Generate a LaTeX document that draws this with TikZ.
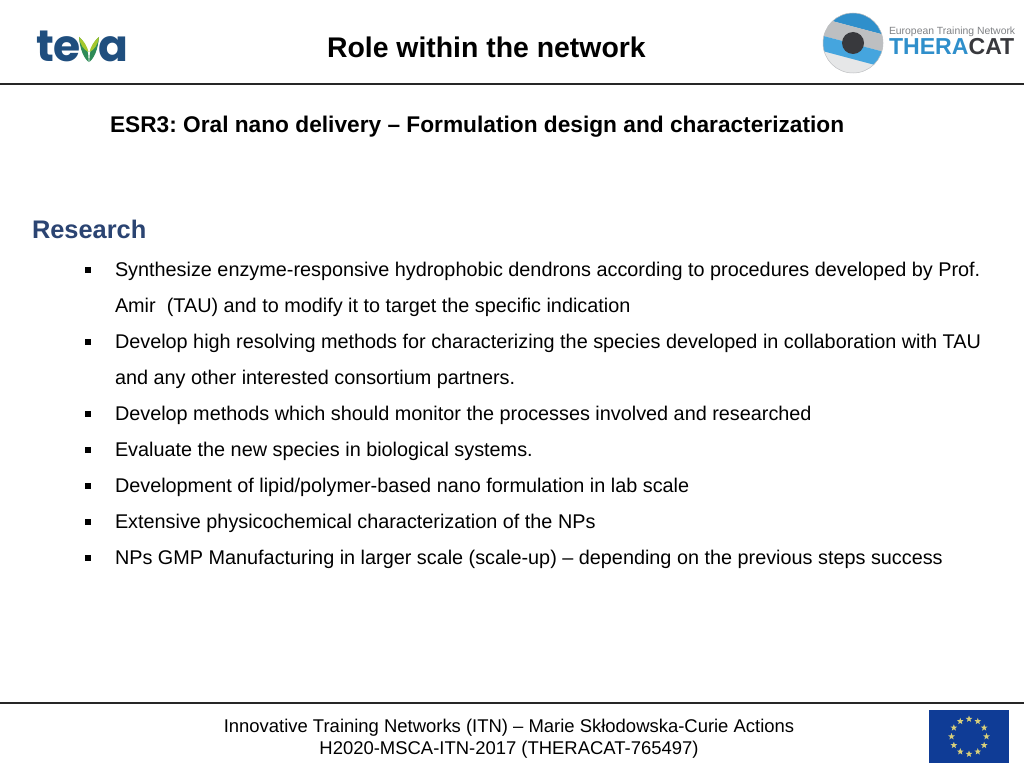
\documentclass[tikz,border=0pt]{standalone}
\usepackage{fontspec}
\usetikzlibrary{shapes.geometric}
\setmainfont{Liberation Sans}
\newfontfamily\popf{Poppins}
\frenchspacing
\definecolor{tevablue}{HTML}{1F4E7E}
\definecolor{tevagreen}{HTML}{2E8B57}
\definecolor{tevalime}{HTML}{A5C82D}
\definecolor{resblue}{HTML}{2B4472}
\definecolor{thblue}{HTML}{2F8FCB}
\definecolor{thsky}{HTML}{45A5DE}
\definecolor{thgray}{HTML}{BDBFC1}
\definecolor{thlight}{HTML}{E6E7E8}
\definecolor{thdark}{HTML}{38393D}
\definecolor{thtext}{HTML}{808285}
\definecolor{eublue}{HTML}{0F3C96}
\definecolor{eustar}{HTML}{D8CF7A}
\tikzset{
  x=1pt,y=-1pt,
  txt/.style={anchor=base west,inner sep=0pt,outer sep=0pt,text=black},
  body/.style={txt,font=\fontsize{19.83}{24}\selectfont},
  headtxt/.style={txt,font=\fontsize{28.4}{34}\selectfont\bfseries},
  subtxt/.style={txt,font=\fontsize{22.7}{28}\selectfont\bfseries},
  foot/.style={anchor=base,inner sep=0pt,font=\fontsize{18.45}{22}\selectfont,text=black},
  bullet/.style={fill=black,draw=none,minimum size=6pt,inner sep=0pt,outer sep=0pt,rectangle},
  rulel/.style={draw=black!85,line width=1.4pt},
  eust/.style={star,star points=5,star point ratio=2.4,fill=eustar,draw=none,minimum size=7pt,inner sep=0pt}
}
\begin{document}
\begin{tikzpicture}
\useasboundingbox (0,0) rectangle (1024,768);
\fill[white] (0,0) rectangle (1024,768);
\coordinate (tl) at (0,84);\coordinate (tr) at (1024,84);
\coordinate (bl) at (0,703);\coordinate (br) at (1024,703);
\draw[rulel] (tl) -- (tr);
\draw[rulel] (bl) -- (br);
% teva logo
\node[txt,text=tevablue,font=\fontsize{44}{44}\selectfont\popf\bfseries] (te) at (36,62) {te};
\node[txt,text=tevablue,font=\fontsize{44}{44}\selectfont\popf\bfseries] (ta) at (98,62) {a};
\fill[tevagreen] (79,37) .. controls (80,50) and (84,58) .. (88.5,62) .. controls (89,52) and (86,43) .. (79,37) -- cycle;
\fill[tevagreen] (99,37) .. controls (98,50) and (94,58) .. (89.5,62) .. controls (89,52) and (92,43) .. (99,37) -- cycle;
\fill[tevalime] (79,37) .. controls (84,41) and (87,46) .. (88.5,52) .. controls (84,50) and (80,45) .. (79,37) -- cycle;
\fill[tevalime] (99,37) .. controls (94,41) and (91,46) .. (89.5,52) .. controls (94,50) and (98,45) .. (99,37) -- cycle;
% theracat logo
\begin{scope}
\clip (853,43) circle (30);
\fill[thlight] (815,10) rectangle (890,75);
\fill[thblue] (815,10) -- (890,10) -- (890,36.4) -- (815,16.5) -- cycle;
\fill[thgray] (815,16.5) -- (890,36.4) -- (890,53.5) -- (815,33.8) -- cycle;
\fill[thsky] (815,33.8) -- (890,53.5) -- (890,69) -- (815,49) -- cycle;
\end{scope}
\draw[thgray,line width=.5pt] (853,43) circle (30);
\fill[thdark] (853,43) circle (11);
\node[txt,text=thtext,font=\fontsize{10.4}{12}\selectfont] (ten) at (889,35) {European Training Network};
\node[txt,text=thblue,font=\fontsize{23.1}{26}\selectfont\bfseries] (th1) at (889,55) {THERA\textcolor{thdark}{CAT}};
% titles
\node[headtxt] (title) at (327,58) {Role within the network};
\node[subtxt] (sub) at (110,132) {ESR3: Oral nano delivery -- Formulation design and characterization};
\node[headtxt,text=resblue,font=\fontsize{25.4}{30}\selectfont\bfseries] (res) at (32,238) {Research};
% bullets
\node[bullet] (b1) at (88,270) {};
\node[bullet] (b2) at (88,342) {};
\node[bullet] (b3) at (88,414) {};
\node[bullet] (b4) at (88,450) {};
\node[bullet] (b5) at (88,486) {};
\node[bullet] (b6) at (88,522) {};
\node[bullet] (b7) at (88,558) {};
% body
\node[body] (t1) at (115,276.5) {Synthesize enzyme-responsive hydrophobic dendrons according to procedures developed by Prof.};
\node[body] (t1b) at (115,312.5) {Amir\ \ (TAU) and to modify it to target the specific indication};
\node[body] (t2) at (115,348.5) {Develop high resolving methods for characterizing the species developed in collaboration with TAU};
\node[body] (t2b) at (115,384.5) {and any other interested consortium partners.};
\node[body] (t3) at (115,420.5) {Develop methods which should monitor the processes involved and researched};
\node[body] (t4) at (115,456.5) {Evaluate the new species in biological systems.};
\node[body] (t5) at (115,492.5) {Development of lipid/polymer-based nano formulation in lab scale};
\node[body] (t6) at (115,528.5) {Extensive physicochemical characterization of the NPs};
\node[body] (t7) at (115,564.5) {NPs GMP Manufacturing in larger scale (scale-up) -- depending on the previous steps success};
% footer
\node[foot] (f1) at (509,732) {Innovative Training Networks (ITN) -- Marie Skłodowska-Curie Actions};
\node[foot] (f2) at (509,754) {H2020-MSCA-ITN-2017 (THERACAT-765497)};
% EU flag
\fill[eublue] (929,710) rectangle (1009,763);
\foreach \i in {1,...,12}{
  \node[eust] (s\i) at ({969+17.5*cos(30*\i)},{736.5+17.5*sin(30*\i)}) {};
}
\end{tikzpicture}
\end{document}
